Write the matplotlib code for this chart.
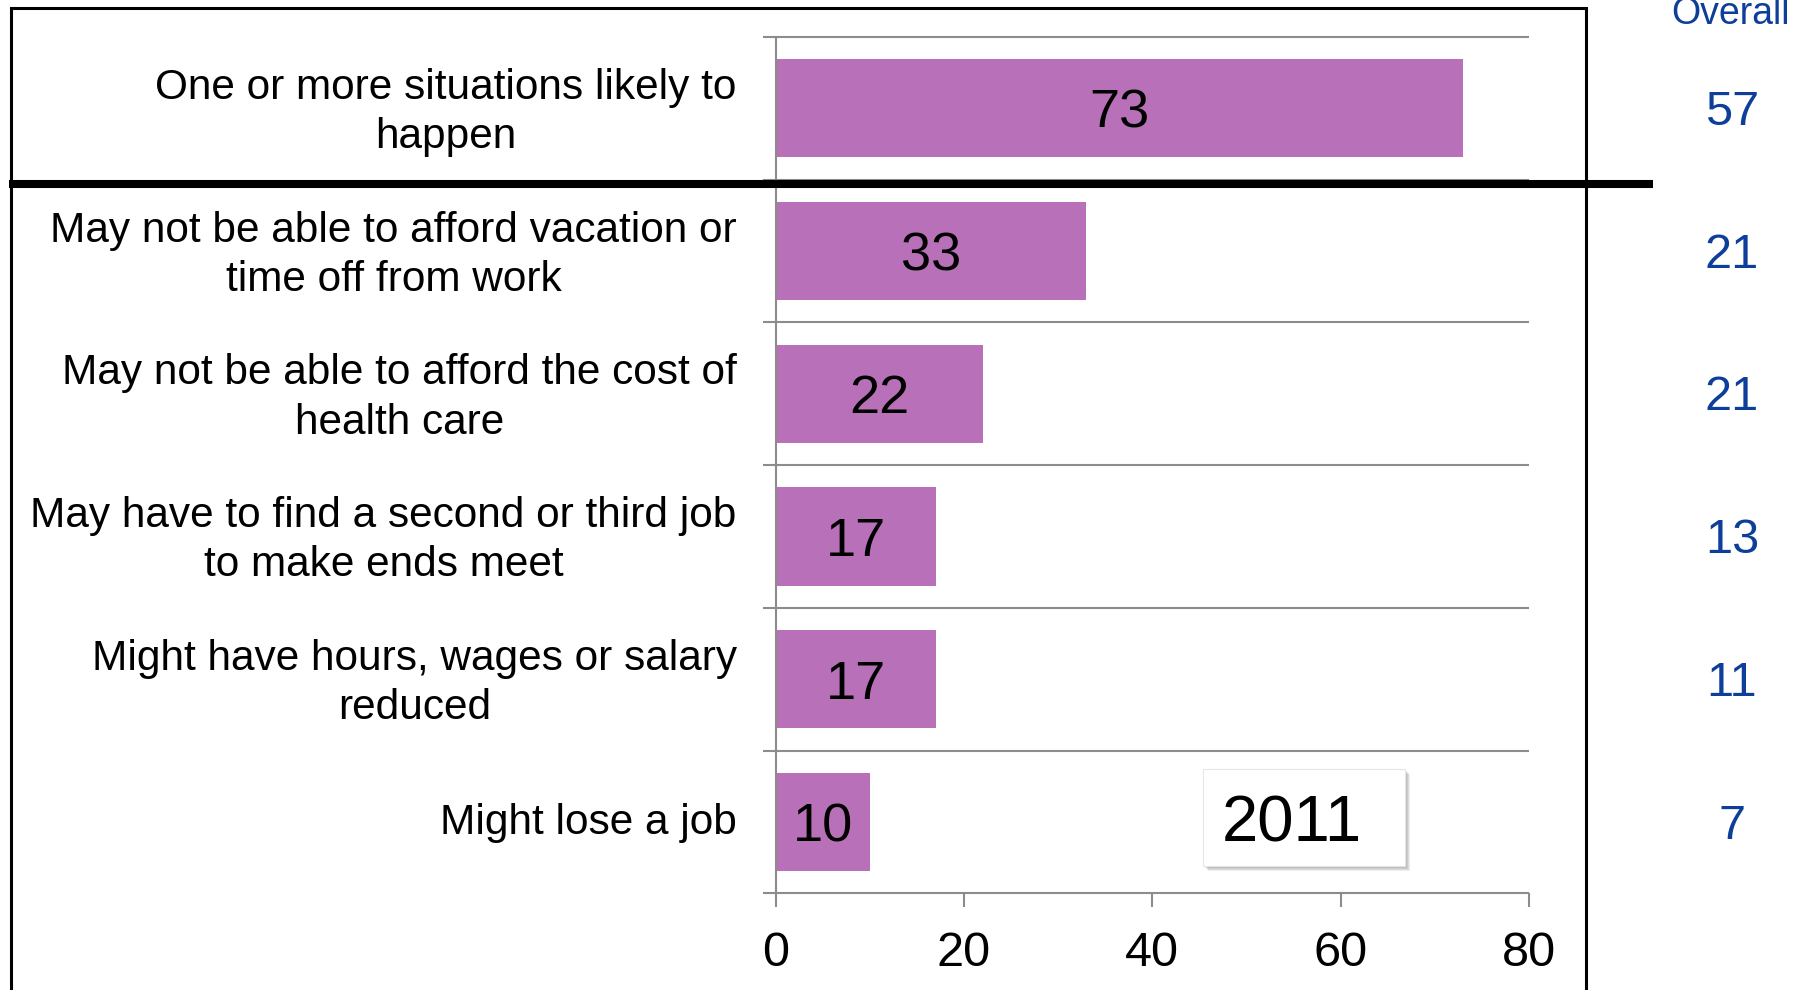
import numpy as np
import matplotlib
matplotlib.use("Agg")
import matplotlib.pyplot as plt
from matplotlib.patches import Rectangle
from matplotlib.lines import Line2D

plt.rcParams['font.family'] = ['Liberation Sans', 'DejaVu Sans']

# data
categories = [
    "One or more situations likely to\nhappen",
    "May not be able to afford vacation or\ntime off from work",
    "May not be able to afford the cost of\nhealth care",
    "May have to find a second or third job\nto make ends meet",
    "Might have hours, wages or salary\nreduced",
    "Might lose a job",
]
values_2011 = [73, 33, 22, 17, 17, 10]
overall = [57, 21, 21, 13, 11, 7]
x_ticks = [0, 20, 40, 60, 80]
year_label = "2011"
overall_label = "Overall"

BAR = '#B870B8'
BLUE = '#0D3F9A'
GRID = '#8C8C8C'

W, H = 1806, 990
fig = plt.figure(figsize=(W / 100, H / 100), dpi=100)


def fx(px):
    return px / W


def fy(py):
    return 1 - py / H


ax = fig.add_axes([fx(775.7), fy(893.3), fx(1529) - fx(775.7), fy(37) - fy(893.3)])

n = len(categories)
pos = np.arange(n)
bars = ax.barh(pos, values_2011, height=0.687, color=BAR, zorder=2)
for b, v in zip(bars, values_2011):
    ax.annotate(str(v), (b.get_x() + b.get_width() / 2, b.get_y() + b.get_height() / 2),
                xytext=(0, -4), textcoords='offset points', ha='center', va='center',
                fontsize=39, color='black', zorder=3)

ax.set_xlim(x_ticks[0], x_ticks[-1])
ax.set_ylim(n - 0.5, -0.5)

# horizontal separators between categories, sticking out a bit left of the axis
bounds = np.arange(n + 1) - 0.5
ax.hlines(bounds, -1.4, x_ticks[-1], colors=GRID, lw=1.5, clip_on=False, zorder=1)

# category labels
ax.set_yticks([])
yt = ax.get_yaxis_transform()
for i, lab in enumerate(categories):
    dy = -3 if '\n' in lab else -1
    ax.annotate(lab, (0, i), xycoords=yt, xytext=(-28, dy), textcoords='offset points',
                ha='right', va='center', ma='center', linespacing=1.3,
                fontsize=30.5, color='black', annotation_clip=False)

ax.set_xticks(x_ticks)
ax.tick_params(axis='x', direction='out', length=10, width=1.5, color=GRID,
               labelsize=35, pad=17)

for s in ['top', 'right', 'bottom']:
    ax.spines[s].set_visible(False)
ax.spines['left'].set_color(GRID)
ax.spines['left'].set_linewidth(1.5)

# overall column
for i, v in enumerate(overall):
    ax.annotate(str(v), (1.2695, i), xycoords=yt, xytext=(0, -3), textcoords='offset points',
                ha='center', va='center', fontsize=35, color=BLUE, annotation_clip=False)
fig.text(fx(1731), fy(24), overall_label, ha='center', va='baseline',
         fontsize=27, color=BLUE)

# outer frame
fig.add_artist(Line2D([fx(11), fx(11), fx(1586), fx(1586)],
                      [fy(1000), fy(8), fy(8), fy(1000)],
                      color='black', lw=2.2, solid_joinstyle='miter'))
# thick separator under the first row
fig.add_artist(Line2D([fx(9), fx(1653)], [fy(184), fy(184)], color='black', lw=5.8,
                      solid_capstyle='butt'))

# year box with a soft shadow
bx0, bx1, by0, by1 = 1203, 1405, 769, 866
for k in range(1, 6):
    fig.add_artist(Rectangle((fx(bx0 + k), fy(by1 + k)), fx(bx1 - bx0), fy(by0) - fy(by1),
                             facecolor='black', edgecolor='none', alpha=0.07))
fig.add_artist(Rectangle((fx(bx0), fy(by1)), fx(bx1 - bx0), fy(by0) - fy(by1),
                         facecolor='white', edgecolor='#E6E6E6', lw=0.8))
fig.text(fx(1292), fy(825), year_label, ha='center', va='center', fontsize=47, color='black')

fig.savefig('out.png', dpi=100)
